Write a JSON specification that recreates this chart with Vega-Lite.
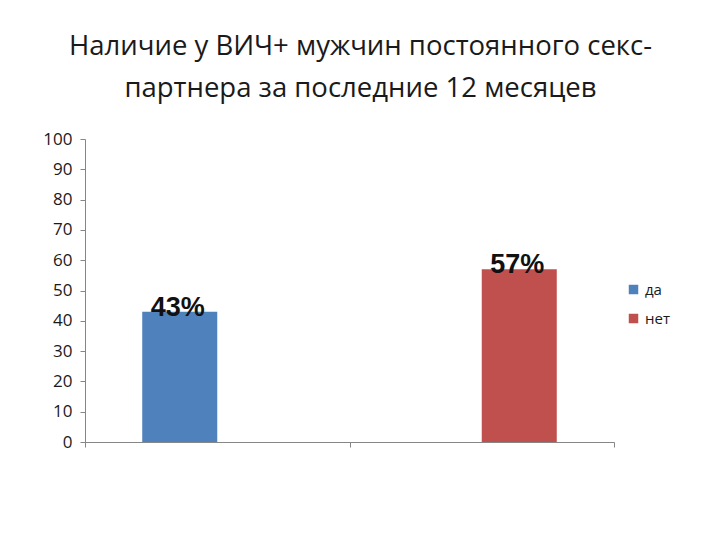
{
  "$schema": "https://vega.github.io/schema/vega-lite/v6.json",
  "autosize": {"type": "none"},
  "width": 529,
  "height": 303,
  "padding": {"left": 85, "top": 139, "right": 106, "bottom": 98},
  "background": "white",
  "title": {
    "text": ["Наличие у ВИЧ+ мужчин постоянного секс-", "партнера за последние 12 месяцев"],
    "font": "Open Sans",
    "fontSize": 27.5,
    "fontWeight": "normal",
    "color": "#1a1a1a",
    "lineHeight": 42,
    "anchor": "middle",
    "dx": 11,
    "offset": 28
  },
  "data": {
    "values": [
      {"group": "1", "series": "да", "value": 43, "label": "43%"},
      {"group": "2", "series": "нет", "value": 57, "label": "57%"}
    ]
  },
  "encoding": {
    "x": {
      "field": "group",
      "type": "nominal",
      "title": null,
      "scale": {"paddingInner": 0, "paddingOuter": 0},
      "axis": {
        "labels": false,
        "tickBand": "extent",
        "domainColor": "#868686",
        "tickColor": "#868686",
        "tickSize": 5,
        "grid": false
      }
    },
    "xOffset": {
      "field": "series",
      "type": "nominal",
      "scale": {"domain": ["да", "нет"], "paddingInner": 0, "paddingOuter": 0.763}
    },
    "y": {
      "field": "value",
      "type": "quantitative",
      "title": null,
      "scale": {"domain": [0, 100], "nice": false},
      "axis": {
        "values": [0, 10, 20, 30, 40, 50, 60, 70, 80, 90, 100],
        "grid": false,
        "domainColor": "#868686",
        "tickColor": "#868686",
        "tickSize": 5,
        "labelFont": "Open Sans",
        "labelFontSize": 17,
        "labelColor": "#1a1a1a",
        "labelPadding": 8
      }
    }
  },
  "layer": [
    {
      "mark": {"type": "bar"},
      "encoding": {
        "color": {
          "field": "series",
          "type": "nominal",
          "scale": {"domain": ["да", "нет"], "range": ["#4F81BD", "#C0504D"]},
          "legend": {
            "title": null,
            "orient": "none",
            "legendX": 541,
            "legendY": 143,
            "symbolType": "square",
            "symbolSize": 90,
            "symbolStrokeWidth": 0,
            "labelFont": "Open Sans",
            "labelFontSize": 15,
            "labelColor": "#1a1a1a",
            "rowPadding": 13
          }
        }
      }
    },
    {
      "mark": {
        "type": "text",
        "font": "Liberation Sans",
        "fontWeight": "bold",
        "fontSize": 27,
        "baseline": "alphabetic",
        "dy": 4,
        "dx": -2,
        "color": "#111"
      },
      "encoding": {"text": {"field": "label"}}
    }
  ],
  "config": {"view": {"stroke": null}}
}
